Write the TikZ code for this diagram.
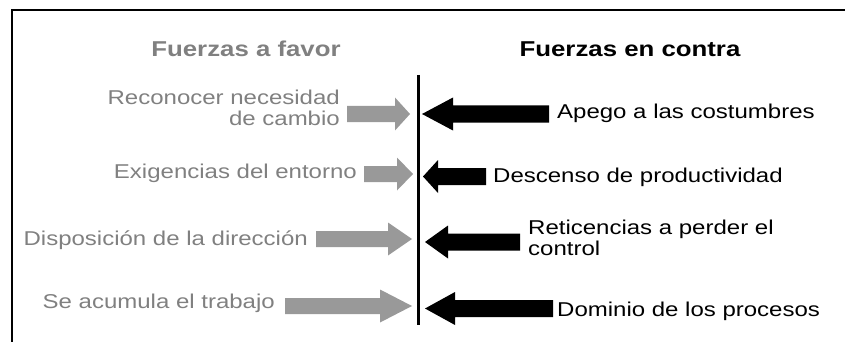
\documentclass[tikz,border=0pt]{standalone}
\usepackage{fontspec}
\setmainfont{Liberation Sans}[FakeStretch=1.2]
\definecolor{txtgray}{HTML}{808080}
\definecolor{arrgray}{HTML}{999999}
\begin{document}
\begin{tikzpicture}[x=1pt,y=-1pt,line join=miter,
	txt/.style={inner sep=0pt,font=\fontsize{20}{21}\selectfont},
	head/.style={inner sep=0pt,font=\fontsize{21.5}{22}\selectfont\bfseries}]
	\useasboundingbox (0,0) rectangle (845,342);
	\path
	(845,10) coordinate(R)
	(12,10) coordinate(O)
	(12,342) coordinate(L)
	(418,75) coordinate(T)
	(418,325) coordinate(B)
	;
	\draw[line width=2pt] (R)--(O)--(L);
	\draw[line width=3pt] (T)--(B);
	% titulos
	\node[head,text=txtgray,anchor=base] (hfav) at (246,57) {Fuerzas a favor};
	\node[head,anchor=base] (hcon) at (630,57) {Fuerzas en contra};
	% fuerzas a favor
	\node[txt,text=txtgray,anchor=north east,align=right] (f1) at (340,89.5) {Reconocer necesidad\\de cambio};
	\node[txt,text=txtgray,anchor=base east] (f2) at (357,178) {Exigencias del entorno};
	\node[txt,text=txtgray,anchor=base east] (f3) at (308,245) {Disposición de la dirección};
	\node[txt,text=txtgray,anchor=base east] (f4) at (275,308) {Se acumula el trabajo};
	% fuerzas en contra
	\node[txt,anchor=base west] (c1) at (557,118) {Apego a las costumbres};
	\node[txt,anchor=base west] (c2) at (493,182) {Descenso de productividad};
	\node[txt,anchor=north west,align=left] (c3) at (528,219.5) {Reticencias a perder el\\control};
	\node[txt,anchor=base west] (c4) at (557,316) {Dominio de los procesos};
	% flechas
	\foreach \y/\a/\b/\c in{114/347/395/410,174/364/397/413,239/316/388/412,306/285/380/412}
	\fill[arrgray] (\a,{\y-8})--(\b,{\y-8})--(\b,{\y-16.5})--(\c,\y)--(\b,{\y+16.5})--(\b,{\y+8})--(\a,{\y+8})--cycle;
	\foreach \y/\a/\b/\c in{114/549/453/422,176.5/486/438/423,242/520/448/425,308.5/553/455/425}
	\fill[black] (\a,{\y-8.5})--(\b,{\y-8.5})--(\b,{\y-16.5})--(\c,\y)--(\b,{\y+16.5})--(\b,{\y+8.5})--(\a,{\y+8.5})--cycle;
\end{tikzpicture}
\end{document}
